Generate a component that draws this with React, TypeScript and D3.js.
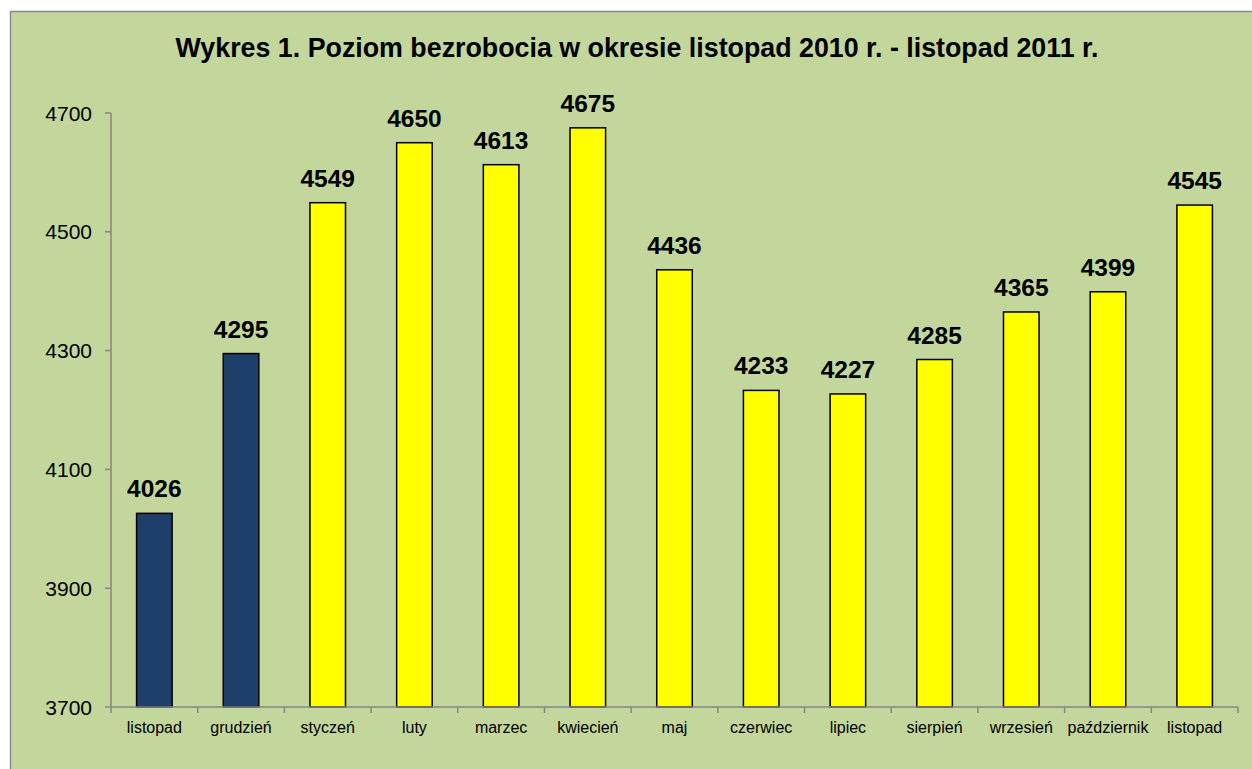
import React from 'react'
import * as d3 from 'd3'

const months = ['listopad', 'grudzień', 'styczeń', 'luty', 'marzec', 'kwiecień', 'maj', 'czerwiec', 'lipiec', 'sierpień', 'wrzesień', 'październik', 'listopad']
const values = [4026, 4295, 4549, 4650, 4613, 4675, 4436, 4233, 4227, 4285, 4365, 4399, 4545]
const years = [2010, 2010, 2011, 2011, 2011, 2011, 2011, 2011, 2011, 2011, 2011, 2011, 2011]
const yTicks = [3700, 3900, 4100, 4300, 4500, 4700]
const title = 'Wykres 1. Poziom bezrobocia w okresie listopad 2010 r. - listopad 2011 r.'

const W = 1252
const H = 769
const font = 'Arial, "Liberation Sans", sans-serif'

export default function App() {
  const left = 111
  const right = 1238
  const top = 113
  const bottom = 707

  const idx = months.map((_, i) => i)
  const x = d3.scaleBand<number>().domain(idx).range([left, right]).paddingInner(0.59).paddingOuter(0.295)
  const y = d3.scaleLinear().domain([3700, 4700]).range([bottom, top])
  const step = x.step()
  const axisColor = '#868686'

  return (
    <svg width={W} height={H} style={{ position: 'absolute', left: 0, top: 0, fontFamily: font }}>
      <rect x={10.5} y={11.5} width={W + 20} height={H + 20} fill="#C3D69B" stroke="#8a8a8a" strokeWidth={1.5} />
      <text x={637} y={57} textAnchor="middle" fontSize={26.8} fontWeight={700} fill="#000">{title}</text>

      {/* y axis */}
      <line x1={left} x2={left} y1={top} y2={bottom} stroke={axisColor} strokeWidth={1.5} />
      {yTicks.map((t) => (
        <g key={t}>
          <line x1={left - 6} x2={left} y1={y(t)} y2={y(t)} stroke={axisColor} strokeWidth={1.5} />
          <text x={92} y={y(t) + 7.5} textAnchor="end" fontSize={21} fill="#000">{t}</text>
        </g>
      ))}

      {/* bars */}
      {values.map((v, i) => (
        <g key={i}>
          <rect
            x={x(i)}
            y={y(v)}
            width={x.bandwidth()}
            height={bottom - y(v)}
            fill={years[i] === 2010 ? '#1F3F6B' : '#FFFF00'}
            stroke="#000"
            strokeWidth={1.5}
          />
          <text x={x(i)! + x.bandwidth() / 2} y={y(v) - 16} textAnchor="middle" fontSize={24.5} fontWeight={700} fill="#000">{v}</text>
        </g>
      ))}

      {/* x axis */}
      <line x1={left} x2={right} y1={bottom} y2={bottom} stroke={axisColor} strokeWidth={1.5} />
      {d3.range(months.length + 1).map((k) => (
        <line key={k} x1={left + k * step} x2={left + k * step} y1={bottom} y2={bottom + 6} stroke={axisColor} strokeWidth={1.5} />
      ))}
      {months.map((m, i) => (
        <text key={i} x={x(i)! + x.bandwidth() / 2} y={733} textAnchor="middle" fontSize={16} fill="#000">{m}</text>
      ))}
    </svg>
  )
}
